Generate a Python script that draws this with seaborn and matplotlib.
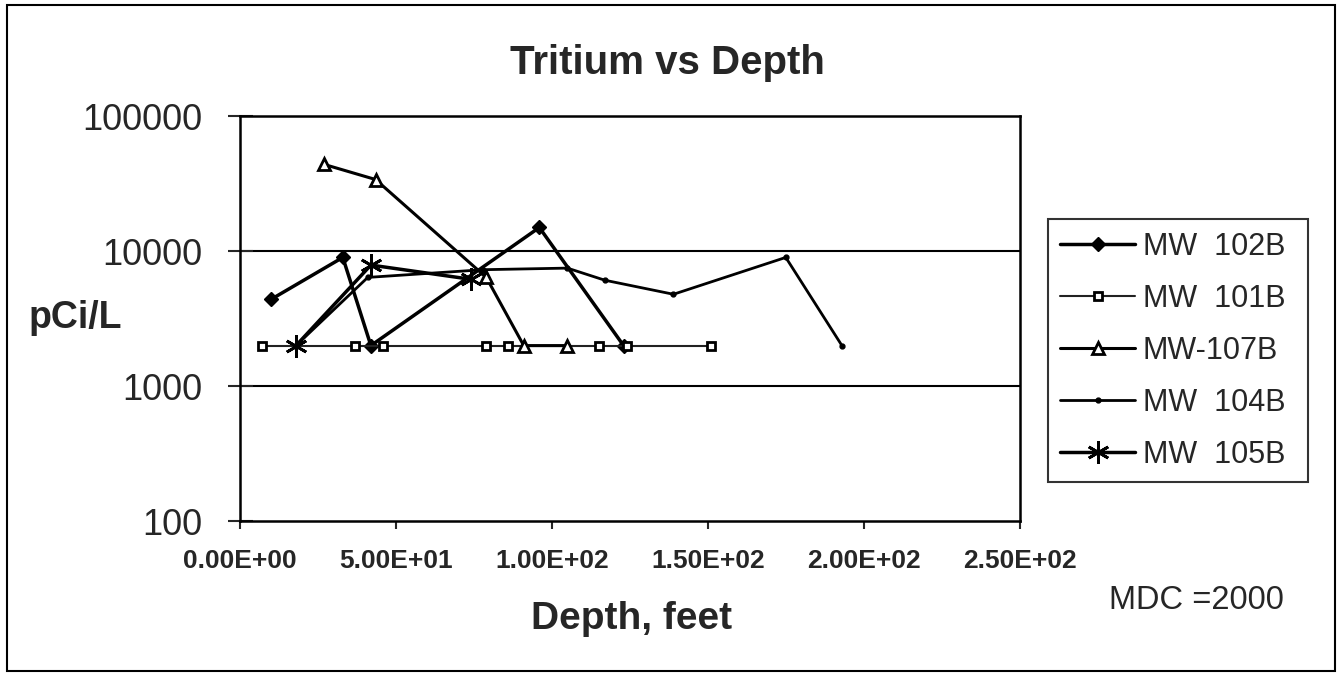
import matplotlib
matplotlib.use("Agg")
import matplotlib.pyplot as plt
import matplotlib.ticker as ticker
from matplotlib.patches import Rectangle
import numpy as np
import pandas as pd
import seaborn as sns

# %% DATOS
mw102b_depth = [10, 33, 42, 96, 123]
mw102b_val = [4400, 9000, 2000, 15000, 2000]

mw101b_depth = [7, 37, 46, 79, 86, 115, 124, 151]
mw101b_val = [2000, 2000, 2000, 2000, 2000, 2000, 2000, 2000]

mw107b_depth = [27, 43.5, 79, 91, 105]
mw107b_val = [44000, 34000, 6400, 2000, 2000]

mw104b_depth = [18, 41, 78, 105, 117, 139, 175, 193]
mw104b_val = [2000, 6400, 7300, 7500, 6100, 4800, 9000, 2000]

mw105b_depth = [18, 42, 74]
mw105b_val = [2000, 7900, 6200]

series_names = ["MW  102B", "MW  101B", "MW-107B", "MW  104B", "MW  105B"]
x_ticks = [0, 50, 100, 150, 200, 250]
y_ticks = [100, 1000, 10000, 100000]

# %% GRAFICO
sns.set_style("white")
plt.rcParams['font.family'] = ['Liberation Sans', 'DejaVu Sans']

fig = plt.figure(figsize=(13.4, 6.76), dpi=100)
ax = fig.add_axes([0.179, 0.229, 0.582, 0.599])

estilos = [
    dict(marker="D", markersize=7.5, linewidth=2.5, color="black",
         markerfacecolor="black", markeredgecolor="black", markeredgewidth=1),
    dict(marker="s", markersize=6, linewidth=1.5, color="#222222",
         markerfacecolor="white", markeredgecolor="black", markeredgewidth=2),
    dict(marker="^", markersize=9, linewidth=2.2, color="black",
         markerfacecolor="white", markeredgecolor="black", markeredgewidth=2),
    dict(marker="o", markersize=3.5, linewidth=2, color="black",
         markerfacecolor="black", markeredgecolor="black", markeredgewidth=1),
    dict(marker=(6, 2, 0), markersize=16, linewidth=2.5, color="black",
         markeredgecolor="black", markeredgewidth=2),
]
datos = [(mw102b_depth, mw102b_val), (mw101b_depth, mw101b_val),
         (mw107b_depth, mw107b_val), (mw104b_depth, mw104b_val),
         (mw105b_depth, mw105b_val)]

for (xs, ys), nombre, est in zip(datos, series_names, estilos):
    df = pd.DataFrame({"depth": xs, "pci": ys})
    sns.lineplot(data=df, x="depth", y="pci", ax=ax, label=nombre,
                 estimator=None, sort=False, **est)

ax.set_yscale("log")
ax.set_xlim(0, 250)
ax.set_ylim(100, 100000)
ax.set_xticks(x_ticks)
ax.set_yticks(y_ticks)
ax.yaxis.set_minor_locator(ticker.NullLocator())
ax.xaxis.set_major_formatter(ticker.FuncFormatter(lambda v, p: "{:.2E}".format(v)))
ax.yaxis.set_major_formatter(ticker.FuncFormatter(lambda v, p: "{:d}".format(int(v))))
ax.tick_params(axis="y", direction="inout", length=18, width=1.5, labelsize=26, pad=18, left=True)
ax.tick_params(axis="x", direction="out", length=6, width=1.5, labelsize=19, pad=14, bottom=True)
for lbl in ax.get_xticklabels():
    lbl.set_fontweight("bold")

for v in [1000, 10000]:
    ax.axhline(v, color="black", linewidth=1.5, zorder=0)
for s in ax.spines.values():
    s.set_visible(True)
    s.set_color("black")
    s.set_linewidth(1.8)

ax.set_xlabel("")
ax.set_ylabel("")

leg = ax.legend(loc="center left", bbox_to_anchor=(0.782, 0.293, 0.194, 0.377),
                bbox_transform=fig.transFigure, mode="expand", fontsize=22,
                frameon=True, fancybox=False, handlelength=2.45, handletextpad=0.26,
                labelspacing=0.72, borderpad=0.4, borderaxespad=0)
leg.get_frame().set_edgecolor("black")
leg.get_frame().set_linewidth(1.5)

fig.text(0.498, 0.907, "Tritium vs Depth", ha="center", va="center",
         fontsize=29, fontweight="bold")
fig.text(0.056, 0.530, "pCi/L", ha="center", va="center", fontsize=27, fontweight="bold")
fig.text(0.471, 0.084, "Depth, feet", ha="center", va="center", fontsize=28, fontweight="bold")
fig.text(0.8925, 0.111, "MDC =2000", ha="center", va="center", fontsize=23.5)

fig.patches.append(Rectangle((0.0052, 0.008), 0.991, 0.985, transform=fig.transFigure,
                             fill=False, edgecolor="black", linewidth=1.5))

fig.savefig("out.png", dpi=100)
